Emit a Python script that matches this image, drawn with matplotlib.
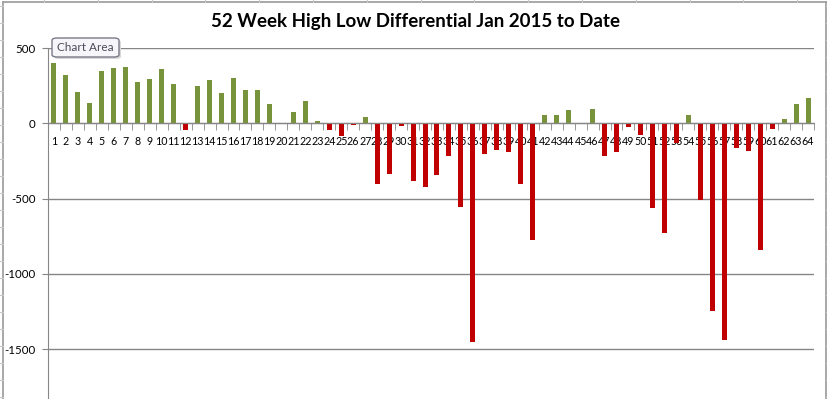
import matplotlib
matplotlib.use("Agg")
import matplotlib.pyplot as plt
from matplotlib.lines import Line2D
from matplotlib.patches import FancyBboxPatch
import numpy as np

weeks = list(range(1, 65))
values = [404, 324, 211, 137, 349, 371, 378, 277, 295, 364,
          264, -40, 251, 291, 204, 304, 224, 224, 131, 0,
          76, 150, 17, -42, -85, -9, 42, -405, -338, -16,
          -385, -425, -345, -218, -558, -1450, -205, -178, -191, -405,
          -778, 57, 57, 89, 0, 95, -218, -191, -22, -78,
          -565, -725, -131, 55, -511, -1245, -1438, -165, -182, -838,
          -38, 29, 129, 169]
y_ticks = [500, 0, -500, -1000, -1500]
title = "52 Week High Low Differential Jan 2015 to Date"

GREEN = "#77933C"
RED = "#C00000"
GRID = "#868686"

W, H = 828, 399
fig = plt.figure(figsize=(W / 100, H / 100), dpi=100)
fig.patch.set_facecolor("white")

left_px, right_px, top_px = 48, 814, 48.3
ax = fig.add_axes([left_px / W, 0, (right_px - left_px) / W, 1 - top_px / H])
ax.set_facecolor("white")

colors = [GREEN if v >= 0 else RED for v in values]
ax.bar(weeks, values, width=0.42, color=colors, zorder=3)

ax.set_xlim(0.5, 64.5)
ax.set_ylim(-1832, 500)

for s in ["top", "right"]:
    ax.spines[s].set_visible(False)
ax.spines["bottom"].set_position(("data", 0))
ax.spines["bottom"].set_color(GRID)
ax.spines["bottom"].set_zorder(4)
ax.spines["left"].set_color(GRID)

ax.set_yticks(y_ticks)
ax.set_yticklabels([str(t) for t in y_ticks], fontsize=8.3, family=["Lato", "DejaVu Sans"])
ax.yaxis.grid(True, color=GRID, linewidth=1.0, zorder=0)
ax.tick_params(axis="y", length=4, color=GRID, pad=5)

ax.set_xticks(weeks)
ax.set_xticklabels([str(w) for w in weeks], fontsize=7.7, family=["Lato", "DejaVu Sans"])
ax.set_xticks(np.arange(0.5, 65, 1), minor=True)
ax.tick_params(axis="x", which="major", length=0, pad=9)
ax.tick_params(axis="x", which="minor", length=5, color=GRID, direction="out")

fig.text(416 / W, 1 - 22 / H, title, ha="center", va="center",
         fontsize=13.5, fontweight="bold", family=["Lato", "DejaVu Sans"])

# "Chart Area" tooltip
shadow = FancyBboxPatch((54 / W, 1 - 59 / H), 67 / W, 19 / H,
                        boxstyle="round,pad=0,rounding_size=0.006",
                        transform=fig.transFigure, facecolor="#D8D8D8",
                        edgecolor="none", zorder=9)
fig.patches.append(shadow)
box = FancyBboxPatch((52 / W, 1 - 57 / H), 67 / W, 19 / H,
                     boxstyle="round,pad=0,rounding_size=0.006",
                     transform=fig.transFigure, facecolor="#F6F6FA",
                     edgecolor="#7A7A8A", linewidth=1.0, zorder=10)
fig.patches.append(box)
fig.text(85.5 / W, 1 - 47.5 / H, "Chart Area", ha="center", va="center",
         fontsize=8.5, color="#4A4A5A", family=["Lato", "DejaVu Sans"], zorder=11)

# spreadsheet cell borders around the chart
edge = "#9A9A9A"
fig.lines.append(Line2D([3 / W, 3 / W], [0, 1 - 1.5 / H], transform=fig.transFigure, color=edge, lw=1.2))
fig.lines.append(Line2D([826 / W, 826 / W], [0, 1 - 1.5 / H], transform=fig.transFigure, color=edge, lw=1.2))
fig.lines.append(Line2D([3 / W, 826 / W], [1 - 1.5 / H, 1 - 1.5 / H], transform=fig.transFigure, color=edge, lw=1.2))
for yp in np.arange(6, 399, 17.0):
    fig.lines.append(Line2D([0, 3 / W], [1 - yp / H, 1 - yp / H], transform=fig.transFigure, color="#C8C8C8", lw=0.8))
    fig.lines.append(Line2D([826 / W, 1], [1 - yp / H, 1 - yp / H], transform=fig.transFigure, color="#C8C8C8", lw=0.8))
for xp in np.arange(44, 826, 53.8):
    fig.lines.append(Line2D([xp / W, xp / W], [1 - 1.5 / H, 1], transform=fig.transFigure, color="#C8C8C8", lw=0.8))

fig.savefig("out.png", dpi=100, facecolor="white")
